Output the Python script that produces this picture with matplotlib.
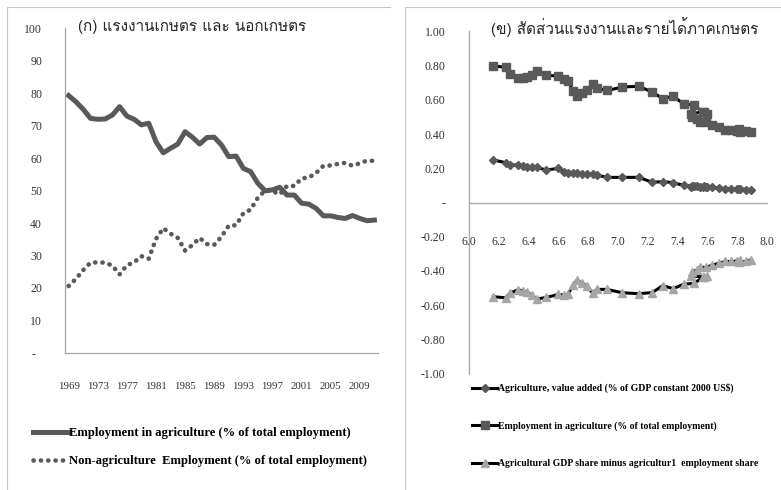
import numpy as np
import matplotlib
matplotlib.use('Agg')
import matplotlib.pyplot as plt
from matplotlib import font_manager as fm
from matplotlib.ft2font import FT2Font

# ----- data: left panel (share of total employment, %) -----
years = list(range(1969, 2012))
ag_emp = [79.2, 77.3, 75.0, 72.2, 71.9, 72.0, 73.2, 75.8, 72.9, 71.9,
          70.2, 70.7, 65.0, 61.6, 63.0, 64.3, 68.1, 66.4, 64.3, 66.3,
          66.4, 64.0, 60.4, 60.6, 56.8, 55.8, 52.2, 49.9, 50.2, 51.0,
          48.6, 48.6, 46.1, 45.8, 44.5, 42.2, 42.2, 41.7, 41.4, 42.3,
          41.4, 40.7, 40.9]
nonag_emp = [20.6, 22.8, 25.5, 27.8, 27.9, 27.8, 26.9, 24.2, 27.0, 27.9,
             29.8, 29.0, 35.1, 38.4, 36.7, 35.4, 31.5, 33.2, 35.4, 33.5,
             33.3, 35.8, 39.2, 39.3, 43.0, 44.1, 47.8, 50.0, 49.8, 48.8,
             51.4, 51.4, 53.7, 54.0, 55.4, 57.6, 57.7, 58.2, 58.5, 57.6,
             58.4, 59.2, 59.1]
year_ticks = list(range(1969, 2010, 4))

# ----- data: right panel (x = log GDP per capita) -----
log_gdp = [6.163, 6.245, 6.276, 6.33, 6.36, 6.39, 6.42, 6.455, 6.52, 6.60,
           6.64, 6.665, 6.70, 6.724, 6.76, 6.79, 6.83, 6.86, 6.925, 7.03,
           7.14, 7.23, 7.30, 7.37, 7.44, 7.51, 7.57, 7.60, 7.58, 7.49,
           7.50, 7.53, 7.55, 7.59, 7.63, 7.68, 7.72, 7.76, 7.80, 7.82,
           7.81, 7.86, 7.89]
agri_va = [0.249, 0.233, 0.220, 0.218, 0.213, 0.210, 0.205, 0.205, 0.190, 0.200,
           0.180, 0.175, 0.170, 0.170, 0.168, 0.167, 0.165, 0.160, 0.147, 0.147,
           0.147, 0.118, 0.122, 0.116, 0.100, 0.095, 0.092, 0.090, 0.095, 0.090,
           0.095, 0.095, 0.092, 0.090, 0.088, 0.085, 0.080, 0.080, 0.078, 0.077,
           0.080, 0.076, 0.073]
agri_emp = [0.800, 0.790, 0.750, 0.728, 0.730, 0.735, 0.745, 0.770, 0.745, 0.738,
            0.722, 0.710, 0.650, 0.625, 0.640, 0.655, 0.695, 0.668, 0.655, 0.675,
            0.680, 0.645, 0.608, 0.620, 0.578, 0.568, 0.530, 0.520, 0.530, 0.520,
            0.500, 0.490, 0.470, 0.470, 0.455, 0.440, 0.425, 0.425, 0.420, 0.415,
            0.430, 0.420, 0.410]
share_gap = [-0.551, -0.557, -0.530, -0.510, -0.517, -0.525, -0.540, -0.565, -0.555, -0.538,
             -0.542, -0.535, -0.480, -0.455, -0.472, -0.488, -0.530, -0.508, -0.508, -0.528,
             -0.533, -0.527, -0.486, -0.504, -0.478, -0.473, -0.438, -0.430, -0.435, -0.430,
             -0.405, -0.395, -0.378, -0.380, -0.367, -0.355, -0.345, -0.345, -0.342, -0.338,
             -0.350, -0.344, -0.337]


# find some installed font that actually has Thai glyphs
def thai_family():
    found = []
    for f in fm.fontManager.ttflist:
        try:
            if 0x0E01 in FT2Font(f.fname).get_charmap():
                found.append(f.name)
        except Exception:
            pass
    sans = [n for n in found if 'Sans' in n or 'Loma' in n or 'Tahoma' in n]
    if sans:
        return sans[0]
    return found[0] if found else 'DejaVu Sans'

thai = thai_family()
serif = 'Liberation Serif'
dark = '#595959'
axis_col = '#a6a6a6'
txt_col = '#333333'

fig = plt.figure(figsize=(7.81, 4.90), dpi=100)

# panel frames (only left and top edges show in the picture)
for x0 in [7 / 781, 405 / 781]:
    fig.add_artist(plt.Line2D([x0, x0], [0, 1 - 7 / 490], color='#c8c8c8', lw=0.8))
fig.add_artist(plt.Line2D([7 / 781, 390 / 781], [1 - 7 / 490] * 2, color='#c8c8c8', lw=0.8))
fig.add_artist(plt.Line2D([405 / 781, 1], [1 - 7 / 490] * 2, color='#c8c8c8', lw=0.8))

# ---------------- left panel ----------------
ax1 = fig.add_axes([65 / 781, 1 - 353 / 490, 313 / 781, 325 / 490])
ax1.plot(years, ag_emp, color=dark, lw=3.6, solid_joinstyle='round',
         label='Employment in agriculture (% of total employment)')
ax1.plot(years, nonag_emp, color=dark, lw=3.3, linestyle=(0, (0.05, 1.55)),
         dash_capstyle='round',
         label='Non-agriculture  Employment (% of total employment)')
ax1.set_xlim(1968.5, 2011.5)
ax1.set_ylim(0, 100)
ax1.set_xticks(year_ticks)
ax1.set_xticklabels([str(y) for y in year_ticks])
ax1.set_yticks(range(0, 101, 10))
ax1.set_yticklabels(['-  '] + [str(v) for v in range(10, 101, 10)])
ax1.tick_params(axis='x', length=0, pad=21, labelsize=7.8, labelcolor=txt_col)
ax1.tick_params(axis='y', length=0, pad=16.5, labelsize=8.5, labelcolor=txt_col)
for lab in ax1.get_xticklabels() + ax1.get_yticklabels():
    lab.set_fontfamily(serif)
for s in ['top', 'right']:
    ax1.spines[s].set_visible(False)
for s in ['left', 'bottom']:
    ax1.spines[s].set_color(axis_col)
    ax1.spines[s].set_linewidth(0.9)

ax1.legend(loc='upper left', bbox_to_anchor=(33 / 781, 1 - 427 / 490),
           bbox_transform=fig.transFigure, frameon=False, borderpad=0,
           borderaxespad=0, handlelength=2.8, handletextpad=0.05,
           labelspacing=1.3, prop={'family': serif, 'weight': 'bold', 'size': 9.1})

fig.text(192 / 781, 1 - 27 / 490, '(ก) แรงงานเกษตร และ นอกเกษตร',
         family=[thai, 'DejaVu Sans'], fontsize=11, color='#262626',
         ha='center', va='center')

# ---------------- right panel ----------------
ax2 = fig.add_axes([469 / 781, 1 - 373.5 / 490, 298 / 781, 342 / 490])
ax2.plot(log_gdp, agri_va, color='black', lw=2.2, marker='D', ms=4.5,
         mfc=dark, mec=dark,
         label='Agriculture, value added (% of GDP constant 2000 US$)')
ax2.plot(log_gdp, agri_emp, color='black', lw=2.2, marker='s', ms=5.5,
         mfc=dark, mec=dark,
         label='Employment in agriculture (% of total employment)')
ax2.plot(log_gdp, share_gap, color='black', lw=2.2, marker='^', ms=5.5,
         mfc='#a6a6a6', mec='#a6a6a6',
         label='Agricultural GDP share minus agricultur1  employment share')
ax2.set_xlim(6.0, 8.0)
ax2.set_ylim(-1.0, 1.0)
ax2.set_xticks(np.arange(6.0, 8.01, 0.2))
ax2.set_xticklabels(['%.1f' % v for v in np.arange(6.0, 8.01, 0.2)])
yt = np.arange(-1.0, 1.01, 0.2)
ax2.set_yticks(yt)
ax2.set_yticklabels(['-' if abs(v) < 1e-9 else '%.2f' % v for v in yt])
ax2.spines['bottom'].set_position(('data', 0))
for s in ['top', 'right']:
    ax2.spines[s].set_visible(False)
for s in ['left', 'bottom']:
    ax2.spines[s].set_color(axis_col)
    ax2.spines[s].set_linewidth(0.9)
ax2.tick_params(axis='x', length=0, pad=24, labelsize=8.5, labelcolor=txt_col)
ax2.tick_params(axis='y', length=0, pad=17, labelsize=8.5, labelcolor=txt_col)
for lab in ax2.get_xticklabels() + ax2.get_yticklabels():
    lab.set_fontfamily(serif)

ax2.legend(loc='upper left', bbox_to_anchor=(472 / 781, 1 - 383 / 490),
           bbox_transform=fig.transFigure, frameon=False, borderpad=0,
           borderaxespad=0, handlelength=2.6, handletextpad=0.1,
           labelspacing=2.9, prop={'family': serif, 'weight': 'bold', 'size': 7})

fig.text(625 / 781, 1 - 27 / 490, '(ข) สัดส่วนแรงงานและรายได้ภาคเกษตร',
         family=[thai, 'DejaVu Sans'], fontsize=11, color='#262626',
         ha='center', va='center')

fig.savefig('out.png', dpi=100)
